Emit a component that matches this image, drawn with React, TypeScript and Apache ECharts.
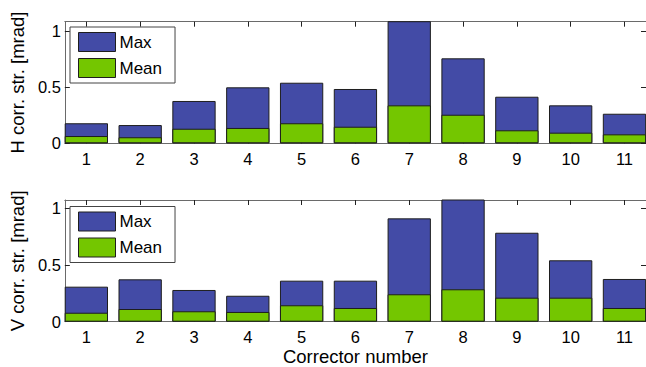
import React, { useEffect, useRef } from 'react';
import * as echarts from 'echarts';

const correctors = [1, 2, 3, 4, 5, 6, 7, 8, 9, 10, 11];
const hMax = [0.179, 0.163, 0.378, 0.5, 0.541, 0.485, 1.1, 0.759, 0.416, 0.339, 0.264];
const hMean = [0.065, 0.054, 0.13, 0.137, 0.179, 0.148, 0.339, 0.255, 0.116, 0.095, 0.08];
const vMax = [0.309, 0.374, 0.28, 0.229, 0.362, 0.362, 0.912, 1.09, 0.785, 0.542, 0.377];
const vMean = [0.079, 0.112, 0.092, 0.086, 0.145, 0.121, 0.242, 0.286, 0.212, 0.212, 0.121];
const yTicks = [0, 0.5, 1];
const seriesNames = ['Max', 'Mean'];
const yTitles = ['H corr. str. [mrad]', 'V corr. str. [mrad]'];
const xTitle = 'Corrector number';

const FONT = '"Liberation Sans", Arial, Helvetica, sans-serif';
const MAX_COLOR = '#434BA6';
const MEAN_COLOR = '#74C600';
const AXIS_COLOR = '#6a6a6a';

export default function App() {
  const ref = useRef<HTMLDivElement>(null);
  useEffect(() => {
    if (!ref.current) return;
    const chart = echarts.init(ref.current, undefined, { renderer: 'svg' });
    const grids = [
      { left: 63, top: 21.7, right: -1, height: 121.6 },
      { left: 63, top: 200, right: -1, height: 121.7 },
    ];
    const yMaxes = [1.086, 1.074];
    const xAxes: any[] = [];
    const yAxes: any[] = [];
    [0, 1].forEach((g) => {
      const common = {
        type: 'value',
        gridIndex: g,
        min: 0.6,
        max: 11.4,
        splitLine: { show: false },
        axisLine: { show: true, onZero: false, lineStyle: { color: AXIS_COLOR, width: 1 } },
        axisTick: { show: true, inside: true, length: 5, customValues: correctors, lineStyle: { color: '#222' } },
      };
      xAxes.push({
        ...common,
        position: 'bottom',
        axisLabel: {
          show: true,
          customValues: correctors,
          color: '#000',
          fontFamily: FONT,
          fontSize: 16.5,
          margin: 7,
        },
        name: g === 1 ? xTitle : '',
        nameLocation: 'middle',
        nameGap: 22,
        nameTextStyle: { color: '#000', fontFamily: FONT, fontSize: 18.5, verticalAlign: 'top' },
      });
      xAxes.push({ ...common, position: 'top', axisLabel: { show: false } });
      const ycommon = {
        type: 'value',
        gridIndex: g,
        min: 0,
        max: yMaxes[g],
        splitLine: { show: false },
        axisLine: { show: true, onZero: false, lineStyle: { color: AXIS_COLOR, width: 1 } },
        axisTick: { show: true, inside: true, length: 5, customValues: yTicks, lineStyle: { color: '#222' } },
      };
      yAxes.push({
        ...ycommon,
        position: 'left',
        axisLabel: {
          show: true,
          customValues: yTicks,
          color: '#000',
          fontFamily: FONT,
          fontSize: 16.5,
          margin: 4,
          formatter: (v: number) => String(v),
        },
        name: yTitles[g],
        nameLocation: 'middle',
        nameGap: 33,
        nameTextStyle: { color: '#000', fontFamily: FONT, fontSize: 18.5 },
      });
      yAxes.push({ ...ycommon, position: 'right', axisLabel: { show: false } });
    });

    const mk = (name: string, vals: number[], g: number, color: string) => ({
      type: 'bar',
      name,
      xAxisIndex: g * 2,
      yAxisIndex: g * 2,
      data: correctors.map((c, i) => [c, vals[i]]),
      barWidth: 43.3,
      barGap: '-100%',
      clip: true,
      itemStyle: { color, borderColor: '#1e1e1e', borderWidth: 1 },
      emphasis: { disabled: true },
    });

    const legendCommon = {
      orient: 'vertical',
      left: 70,
      itemWidth: 37,
      itemHeight: 19,
      itemGap: 6,
      padding: [5, 13, 5, 8],
      borderColor: '#444',
      borderWidth: 1,
      backgroundColor: '#fff',
      icon: 'rect',
      itemStyle: { borderColor: '#1e1e1e', borderWidth: 1 },
      textStyle: { color: '#000', fontFamily: FONT, fontSize: 17, padding: [0, 0, 0, -1] },
      data: seriesNames,
      selectedMode: false,
    };

    chart.setOption({
      animation: false,
      grid: grids,
      xAxis: xAxes,
      yAxis: yAxes,
      legend: [
        { ...legendCommon, top: 27 },
        { ...legendCommon, top: 206.5 },
      ],
      series: [
        mk('Max', hMax, 0, MAX_COLOR),
        mk('Mean', hMean, 0, MEAN_COLOR),
        mk('Max', vMax, 1, MAX_COLOR),
        mk('Mean', vMean, 1, MEAN_COLOR),
      ],
    });
    return () => chart.dispose();
  }, []);
  return (
    <div
      ref={ref}
      style={{ position: 'fixed', left: 0, top: 0, width: 646, height: 367, background: '#fff' }}
    />
  );
}
